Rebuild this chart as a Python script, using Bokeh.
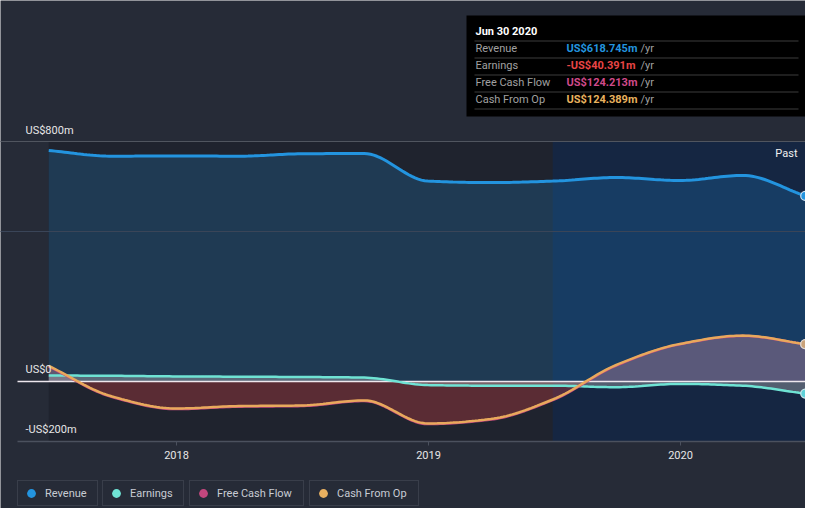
import numpy as np
from bokeh.plotting import figure
from bokeh.models import (Range1d, FixedTicker, Label, BoxAnnotation, Legend,
                          LegendItem, Grid)
from bokeh.embed import file_html
from bokeh.resources import INLINE

# ---------------- data (US$ millions, trailing twelve months) ----------------
# quarter-end dates as fractional years (Jun 30 2017 ... Jun 30 2020)
dates = [2017.493, 2017.745, 2017.997, 2018.247, 2018.493, 2018.745, 2018.997,
         2019.247, 2019.493, 2019.745, 2019.997, 2020.247, 2020.495]
revenue = [770, 751, 752, 751, 759, 760, 668, 663, 668, 680, 670, 687, 618.745]
earnings = [20, 19, 17, 16, 15, 13, -12, -14, -14, -19, -8, -14, -40.391]
free_cash_flow = [50, -52, -92, -84, -82, -65, -142, -127, -62, 53, 124, 152, 124.213]
cash_from_op = [52, -50, -90, -82, -80, -63, -140, -125, -60, 55, 125, 153, 124.389]
year_ticks = [2018, 2019, 2020]
y_label_values = [800, 0, -200]
y_label_texts = ["US$800m", "US$0", "-US$200m"]
grid_major = [800]
grid_minor = [500]
series_names = ["Revenue", "Earnings", "Free Cash Flow", "Cash From Op"]
tooltip_date = "Jun 30 2020"
past_label = "Past"

# ---------------- style / layout ----------------
BG = "#262b37"
FONT = "Roboto"
C_REV = "#2394df"
C_EARN = "#6fe3d4"
C_FCF = "#c4477e"
C_CFO = "#e8a95c"
C_EARN_VAL = "#e84545"

W, H = 805, 508
PLOT_LEFT_PX = 17
Y_TOP_PX, Y_BOT_PX = 141, 441          # pixel rows of y=800 and y=-200
Y_LO, Y_HI = -200, 800
UPP = (Y_HI - Y_LO) / (Y_BOT_PX - Y_TOP_PX)   # data units per pixel
PX_PER_YEAR = 252
X_START = 2018 - 176 / PX_PER_YEAR
X_END = X_START + W / PX_PER_YEAR
Y_END = Y_HI + Y_TOP_PX * UPP
Y_START = Y_LO - (H - Y_BOT_PX) * UPP


def dx(px):  # pixel column -> data x
    return X_START + px / PX_PER_YEAR


def dy(py):  # pixel row -> data y
    return Y_END - py * UPP


def smooth(xs, ys, n=20):
    """Monotone cubic (Fritsch-Carlson) rendering path through the data."""
    xs = np.asarray(xs, float)
    ys = np.asarray(ys, float)
    h = np.diff(xs)
    d = np.diff(ys) / h
    m = np.zeros_like(ys)
    m[0], m[-1] = d[0], d[-1]
    for i in range(1, len(ys) - 1):
        if d[i - 1] * d[i] <= 0:
            m[i] = 0
        else:
            w1 = 2 * h[i] + h[i - 1]
            w2 = h[i] + 2 * h[i - 1]
            m[i] = (w1 + w2) / (w1 / d[i - 1] + w2 / d[i])
    ox, oy = [], []
    for i in range(len(xs) - 1):
        t = np.linspace(0, 1, n, endpoint=False)
        h00 = 2 * t**3 - 3 * t**2 + 1
        h10 = t**3 - 2 * t**2 + t
        h01 = -2 * t**3 + 3 * t**2
        h11 = t**3 - t**2
        ox.extend(xs[i] + t * h[i])
        oy.extend(h00 * ys[i] + h10 * h[i] * m[i] + h01 * ys[i + 1] + h11 * h[i] * m[i + 1])
    ox.append(xs[-1])
    oy.append(ys[-1])
    return np.array(ox), np.array(oy)


p = figure(width=W, height=H, output_backend="svg", toolbar_location=None,
           x_range=Range1d(X_START, X_END), y_range=Range1d(Y_START, Y_END),
           y_axis_location=None, min_border_left=0, min_border_right=0,
           min_border_top=0, min_border_bottom=0)
p.background_fill_color = BG
p.border_fill_color = BG
p.outline_line_color = None
p.xgrid.visible = False
p.ygrid.visible = False

# background regions (history / last year)
p.quad(left=[dates[0]], right=[dates[8]], bottom=[Y_LO], top=[Y_HI],
       fill_color="#1f232e", line_color=None)
p.quad(left=[dates[8]], right=[dates[-1]], bottom=[Y_LO], top=[Y_HI],
       fill_color="#152642", line_color=None)

sx, rev_s = smooth(dates, revenue)
_, earn_s = smooth(dates, earnings)
_, fcf_s = smooth(dates, free_cash_flow)
_, cfo_s = smooth(dates, cash_from_op)

p.varea(x=sx, y1=rev_s, y2=0, fill_color=C_REV, fill_alpha=0.21)
p.varea(x=sx, y1=np.minimum(fcf_s, 0), y2=0, fill_color="#e64141", fill_alpha=0.3)
p.varea(x=sx, y1=np.maximum(fcf_s, 0), y2=0, fill_color="#b8849a", fill_alpha=0.42)
p.varea(x=sx, y1=earn_s, y2=0, fill_color="#a0a4a8", fill_alpha=0.45)

# grid lines and zero line
bounds = (dx(PLOT_LEFT_PX), X_END)
p.add_layout(Grid(dimension=1, ticker=FixedTicker(ticks=grid_major), level="annotation",
                  bounds=bounds, grid_line_color="#50555f", grid_line_width=1))
p.add_layout(Grid(dimension=1, ticker=FixedTicker(ticks=grid_minor), level="annotation",
                  bounds=bounds, grid_line_color="#3a4558", grid_line_width=1))
p.segment(x0=[bounds[0]], x1=[bounds[1]], y0=[0], y1=[0], line_color="#eee8ee", line_width=1.5)

p.line(sx, rev_s, line_color=C_REV, line_width=3)
p.line(sx, earn_s, line_color=C_EARN, line_width=2.5)
p.line(sx, fcf_s, line_color=C_FCF, line_width=2.5)
p.line(sx, cfo_s, line_color=C_CFO, line_width=2.5)

# legend dots (hidden under the end markers) + end markers
legend_colors = [C_REV, C_EARN, C_FCF, "#e8b060"]
last_vals = [revenue[-1], earnings[-1], free_cash_flow[-1], cash_from_op[-1]]
legend_renderers = [p.scatter([dates[-1]], [v], size=8, fill_color=c, line_color=None)
                    for v, c in zip(last_vals, legend_colors)]
p.scatter([dates[-1]], [earnings[-1]], size=9, fill_color="#5fd0d8", line_color="#cfe8ee", line_width=1.2)
p.scatter([dates[-1]], [free_cash_flow[-1]], size=9, fill_color=C_FCF, line_color="#ddd", line_width=1.2)
p.scatter([dates[-1]], [cash_from_op[-1]], size=9, fill_color="#c9a27a", line_color="#e0d8d0", line_width=1.2)
p.scatter([dates[-1]], [revenue[-1]], size=9, fill_color=C_REV, line_color="#d0e4f4", line_width=1.2)

# x axis (fixed at the bottom of the value range)
ax = p.xaxis[0]
ax.fixed_location = Y_LO
ax.bounds = bounds
ax.ticker = FixedTicker(ticks=year_ticks)
ax.axis_line_color = "#4b515e"
ax.axis_line_width = 1.5
ax.major_tick_line_color = "#4b515e"
ax.major_tick_in = 0
ax.major_tick_out = 4
ax.minor_tick_line_color = None
ax.major_label_text_color = "#e6e6e6"
ax.major_label_text_font = FONT
ax.major_label_text_font_size = "11px"
ax.major_label_standoff = 5

# y labels inside the plot
label_offsets_px = [11, 12, 12]
for v, t, off in zip(y_label_values, y_label_texts, label_offsets_px):
    p.add_layout(Label(x=dx(25), y=v + off * UPP, text=t,
                       text_baseline="middle", text_color="#e6e6e6",
                       text_font=FONT, text_font_size="11px"))

p.add_layout(Label(x=dx(797), y=dy(153), text=past_label, text_align="right",
                   text_baseline="middle", text_color="#f0f0f0",
                   text_font=FONT, text_font_size="11px"))

# tooltip box
p.add_layout(BoxAnnotation(left=dx(466), right=dx(805), top=dy(15), bottom=dy(116),
                           fill_color="black", fill_alpha=1, line_color=None,
                           level="overlay"))
p.add_layout(Label(x=dx(475), y=dy(31), text=tooltip_date, text_baseline="middle",
                   text_color="white", text_font=FONT, text_font_size="11px",
                   text_font_style="bold", level="overlay"))
for py in [40, 57, 74, 91, 108]:
    p.add_layout(BoxAnnotation(left=dx(474), right=dx(798), top=dy(py), bottom=dy(py + 1),
                               fill_color="#3c3c3c", fill_alpha=1, line_color=None,
                               level="overlay"))
val_colors = [C_REV, C_EARN_VAL, "#d04a8a", "#e9b25e"]
for i, (name, v, c) in enumerate(zip(series_names, last_vals, val_colors)):
    yy = dy(48 + 17 * i)
    txt = ("-" if v < 0 else "") + f"US${abs(v):.3f}m"
    p.add_layout(Label(x=dx(475), y=yy, text=name, text_baseline="middle",
                       text_color="#a0a0a0", text_font=FONT, text_font_size="11px",
                       level="overlay"))
    p.add_layout(Label(x=dx(566), y=yy, text=txt, text_baseline="middle",
                       text_color=c, text_font=FONT, text_font_size="11px",
                       text_font_style="bold", level="overlay"))
    p.add_layout(Label(x=dx(640), y=yy, text="/yr", text_baseline="middle",
                       text_color="#a0a0a0", text_font=FONT, text_font_size="11px",
                       level="overlay"))

# legends: one bordered box per series
legend_x = [17, 102, 189, 309]
legend_label_w = [51, 52, 85, 80]
for name, r, lx, lw in zip(series_names, legend_renderers, legend_x, legend_label_w):
    lg = Legend(items=[LegendItem(label=name, renderers=[r])], location=(lx, 2),
                orientation="horizontal", padding=1, margin=0, spacing=0,
                glyph_width=24, glyph_height=22, label_height=13, label_width=lw,
                label_standoff=2, label_text_font=FONT, label_text_font_size="11px",
                label_text_color="#c8ccd4", background_fill_color=BG,
                background_fill_alpha=1, border_line_color="#4b515d",
                border_line_width=1)
    p.add_layout(lg)

open("out.html", "w").write(file_html(p, INLINE))
